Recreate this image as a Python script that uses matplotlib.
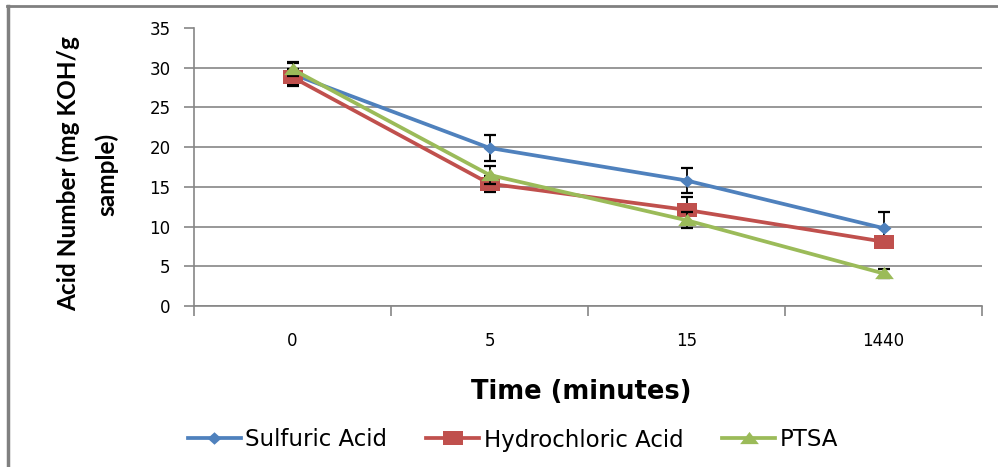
import matplotlib.pyplot as plt
from matplotlib.lines import Line2D

# data
times = ["0", "5", "15", "1440"]
sulfuric = [29.2, 19.9, 15.8, 9.8]
sulfuric_err = [1.5, 1.65, 1.6, 2.0]
hydrochloric = [28.8, 15.4, 12.1, 8.1]
hydrochloric_err = [1.0, 1.0, 1.6, 0.4]
ptsa = [29.8, 16.5, 10.8, 4.1]
ptsa_err = [0.8, 1.1, 1.0, 0.6]

# stretched marker shapes (the original picture is widened)
diamond = [(0, 0.9), (1, 0), (0, -0.9), (-1, 0)]
square = [(-1, -0.65), (1, -0.65), (1, 0.65), (-1, 0.65)]
triangle = [(-1, -0.6), (1, -0.6), (0, 0.7)]

series = [
    ("Sulfuric Acid", sulfuric, sulfuric_err, "#4F81BD", diamond, 10),
    ("Hydrochloric Acid", hydrochloric, hydrochloric_err, "#C0504D", square, 14.5),
    ("PTSA", ptsa, ptsa_err, "#9BBB59", triangle, 13.5),
]

fig = plt.figure(figsize=(9.98, 4.67), dpi=100)
ax = fig.add_axes([194 / 998, 1 - 306 / 467, 788 / 998, 278 / 467])

x = [i + 0.5 for i in range(len(times))]
for k, (name, vals, err, col, mk, ms) in enumerate(series):
    ax.errorbar(x, vals, yerr=err, fmt="none", ecolor="black", elinewidth=1.3,
                capsize=4.5, capthick=1.6, zorder=3 + 2 * k)
    ax.plot(x, vals, color=col, lw=2.7, marker=mk, markersize=ms,
            markeredgewidth=0, label=name, zorder=4 + 2 * k)

ax.set_xlim(0, 4)
ax.set_ylim(0, 35)
ax.set_yticks(range(0, 36, 5))
ax.set_xticks(x)
ax.set_xticklabels(times)
ax.set_xticks(range(0, 5), minor=True)
ax.grid(axis="y", color="#868686", lw=1.2, zorder=0)
ax.get_ygridlines()[-1].set_visible(False)
ax.set_axisbelow(True)
for s in ["top", "right"]:
    ax.spines[s].set_visible(False)
for s in ["left", "bottom"]:
    ax.spines[s].set_color("#868686")
    ax.spines[s].set_linewidth(1.2)
ax.tick_params(axis="y", length=7, width=1.2, color="#868686", pad=10,
               labelsize=12)
ax.tick_params(axis="x", which="major", length=0, pad=19, labelsize=12)
ax.tick_params(axis="x", which="minor", length=7, width=1.2, color="#868686")

ax.set_ylabel("Acid Number (mg KOH/g\nsample)", fontfamily="Lato",
              fontweight="bold", fontsize=17.6, linespacing=1.75)
ax.yaxis.set_label_coords(-0.0964, 0.475)
ax.set_xlabel("Time (minutes)", fontfamily="DejaVu Sans", fontweight="bold",
              fontsize=18.5)
ax.xaxis.set_label_coords((581 - 194) / 788, -(379 - 306) / 278)

fig.legend(loc="center", bbox_to_anchor=(513 / 998, 1 - 440 / 467), ncol=3,
           frameon=False, fontsize=16.5, handlelength=2.3, handletextpad=0.2,
           columnspacing=1.7)

# outer frame of the original picture
fig.add_artist(Line2D([7 / 998, 1], [1 - 6 / 467] * 2, color="#808080", lw=2))
fig.add_artist(Line2D([8 / 998] * 2, [0, 1 - 6 / 467], color="#808080", lw=2.5))

fig.savefig("out.png", dpi=100)
